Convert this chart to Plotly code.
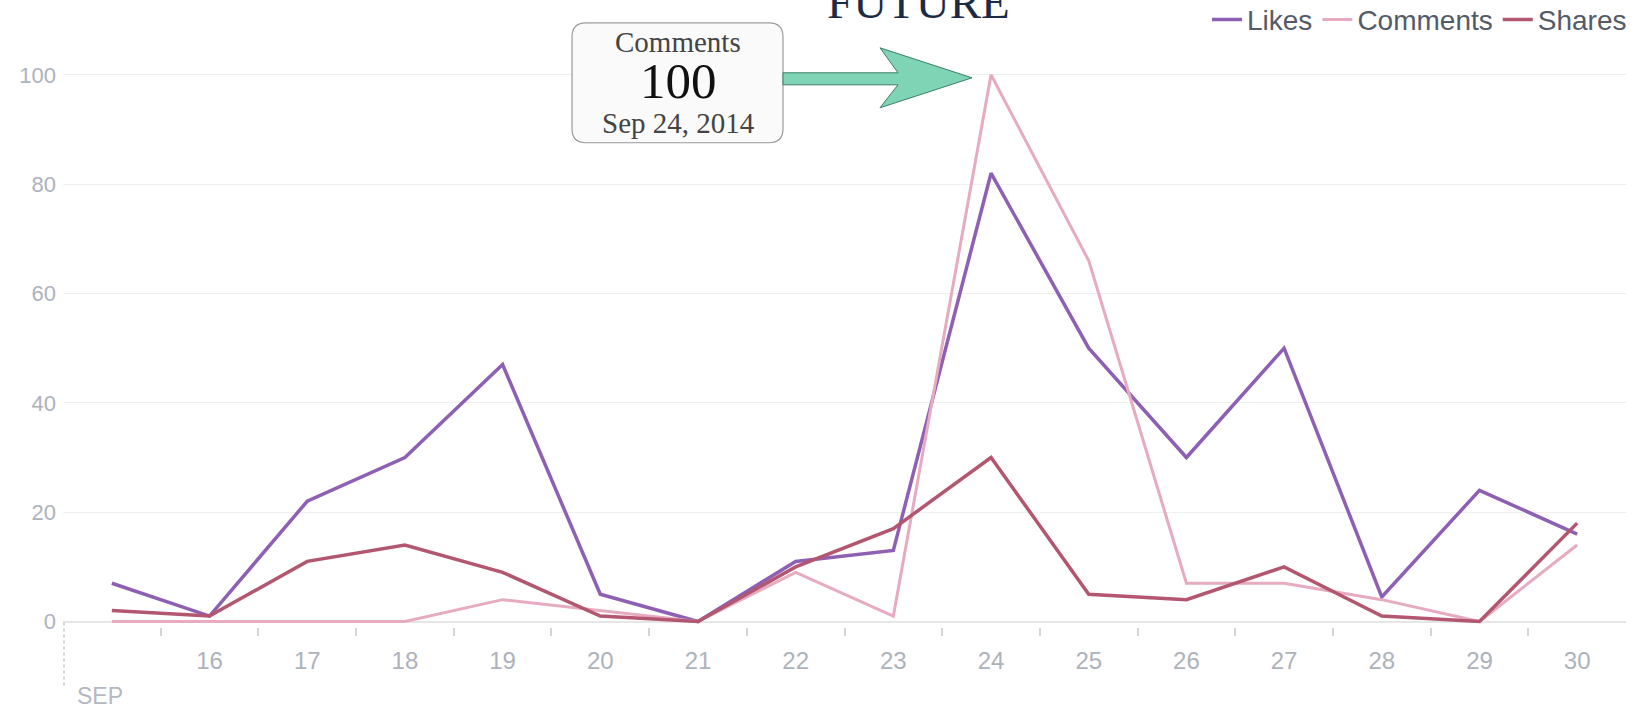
import plotly.graph_objects as go

days = list(range(15, 31))
likes = [7, 1, 22, 30, 47, 5, 0, 11, 13, 82, 50, 30, 50, 4.5, 24, 16]
comments = [0, 0, 0, 0, 4, 2, 0, 9, 1, 100, 66, 7, 7, 4, 0, 14]
shares = [2, 1, 11, 14, 9, 1, 0, 10, 17, 30, 5, 4, 10, 1, 0, 18]
series_names = ["Likes", "Comments", "Shares"]
series_colors = ["#8d60b3", "#e6abc0", "#b3566f"]
y_ticks = [0, 20, 40, 60, 80, 100]
x_labels = [str(d) for d in days]
month_label = "SEP"
callout_series = "Comments"
callout_value = "100"
callout_date = "Sep 24, 2014"
title_text = "FUTURE"

W, H = 1639, 709
# target plot geometry in page pixels
Y0_PAGE, Y100_PAGE = 622, 75
UNIT = (Y0_PAGE - Y100_PAGE) / 100.0
YMIN, YMAX = -1, 106
LEFT_PAGE, RIGHT_PAGE = 63, 1626
L = LEFT_PAGE
R = W - RIGHT_PAGE
B = H - (Y0_PAGE + (0 - YMIN) * UNIT)
T = Y100_PAGE - (YMAX - 100) * UNIT
PW, PH = W - L - R, H - T - B


def px(x, y):
    """page pixel -> paper coords"""
    return (x - L) / PW, (H - B - y) / PH


def rp(x, y):
    a, b = px(x, y)
    return f"{a:.5f},{b:.5f}"


fig = go.Figure()
for name, vals, col in zip(series_names, [likes, comments, shares], series_colors):
    fig.add_trace(go.Scatter(x=days, y=vals, mode="lines", name=name,
                             line=dict(color=col, width=3.5 if name != "Comments" else 3.0)))

shapes = []
bx0, by0, bx1, by1, r = 572, 23, 783, 143, 14
path = (f"M {rp(bx0 + r, by0)} L {rp(bx1 - r, by0)} Q {rp(bx1, by0)} {rp(bx1, by0 + r)} "
        f"L {rp(bx1, by1 - r)} Q {rp(bx1, by1)} {rp(bx1 - r, by1)} "
        f"L {rp(bx0 + r, by1)} Q {rp(bx0, by1)} {rp(bx0, by1 - r)} "
        f"L {rp(bx0, by0 + r)} Q {rp(bx0, by0)} {rp(bx0 + r, by0)} Z")
shapes.append(dict(type="path", xref="paper", yref="paper", path=path,
                   fillcolor="#fafafa", line=dict(color="#9a9a9a", width=1.2)))
arrow_pts = [(783, 73), (898, 73), (880, 48), (972, 78), (880, 108), (898, 85), (783, 85)]
apath = "M " + " L ".join(rp(x, y) for x, y in arrow_pts) + " Z"
shapes.append(dict(type="path", xref="paper", yref="paper", path=apath,
                   fillcolor="#80d4b6", line=dict(color="#3e7d68", width=1)))
a0, b0 = px(LEFT_PAGE + 1, 623)
a1, b1 = px(LEFT_PAGE + 1, 687)
shapes.append(dict(type="line", xref="paper", yref="paper", x0=a0, x1=a1, y0=b0, y1=b1,
                   line=dict(color="#c4c8cf", width=1.5, dash="dot")))

annotations = []
cx, _ = px(678, 0)
serif = "Liberation Serif, Times New Roman, serif"
for txt, ypx, size, col in [(callout_series, 42, 29, "#444444"), (callout_value, 81, 51, "#111111"),
                            (callout_date, 123, 29, "#444444")]:
    _, yy = px(0, ypx)
    annotations.append(dict(text=txt, x=cx, y=yy, xref="paper", yref="paper", showarrow=False,
                            xanchor="center", yanchor="middle",
                            font=dict(family=serif, size=size, color=col)))
tx, ty = px(918, 30)
annotations.append(dict(text=title_text, x=tx, y=ty, xref="paper", yref="paper", showarrow=False,
                        xanchor="center", yanchor="bottom",
                        font=dict(family=serif, size=47, color="#1b2a45")))
sx, sy = px(100, 697)
annotations.append(dict(text=month_label, x=sx, y=sy, xref="paper", yref="paper", showarrow=False,
                        xanchor="center", yanchor="middle",
                        font=dict(family="Liberation Sans, Arial, sans-serif", size=23, color="#b3b8c1")))

lx, ly = px(1632, 20)
fig.update_layout(
    width=W, height=H,
    margin=dict(l=L, r=R, t=T, b=B, autoexpand=False),
    paper_bgcolor="white", plot_bgcolor="white",
    showlegend=True,
    legend=dict(orientation="h", x=lx, y=ly, xanchor="right", yanchor="middle",
                font=dict(family="Liberation Sans, Arial, sans-serif", size=28, color="#545b68"),
                itemwidth=30, bgcolor="rgba(0,0,0,0)"),
    shapes=shapes,
    annotations=annotations,
)
fig.update_xaxes(range=[14.5, 30.5], tickmode="array", tickvals=days[1:], ticktext=x_labels[1:],
                 showgrid=False, zeroline=False, showline=False, ticks="", automargin=False,
                 ticklabelstandoff=17,
                 tickfont=dict(family="Liberation Sans, Arial, sans-serif", size=24, color="#adb2bb"),
                 minor=dict(tickmode="array", tickvals=[d + 0.5 for d in days[:-1]], ticks="outside",
                            ticklen=8, tickwidth=1.5, tickcolor="#d3d6db", showgrid=False))
fig.update_yaxes(range=[YMIN, YMAX], tickmode="array", tickvals=y_ticks, showgrid=True, gridcolor="#efefef",
                 gridwidth=1, zeroline=True, zerolinecolor="#e6e6e6", zerolinewidth=1.5, showline=False,
                 ticklabelstandoff=6, automargin=False,
                 tickfont=dict(family="Liberation Sans, Arial, sans-serif", size=22, color="#adb2bb"))

fig.write_html("out.html", config={"displayModeBar": False},
               post_script="document.body.style.margin='0';document.body.style.overflow='hidden';")
